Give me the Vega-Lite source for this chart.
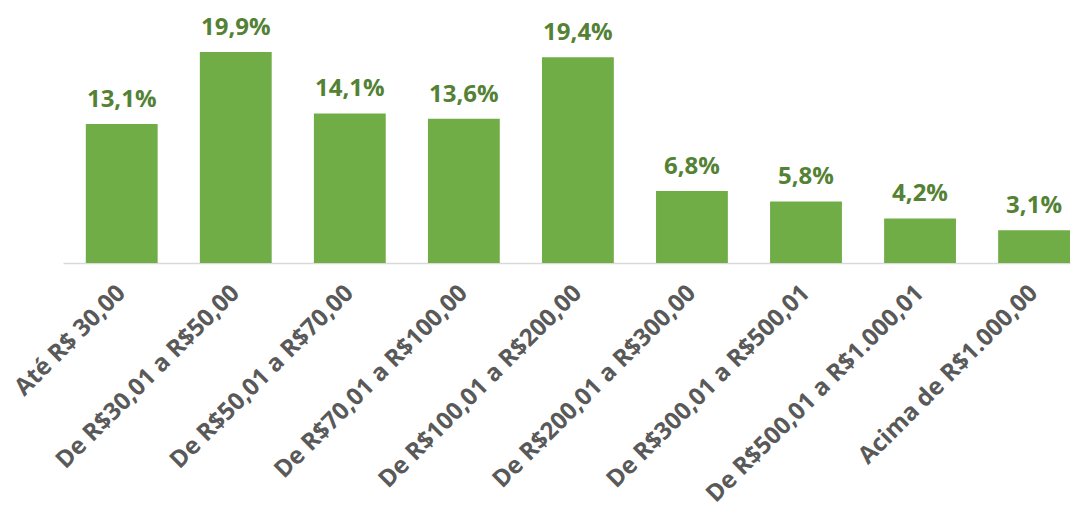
{
  "$schema": "https://vega.github.io/schema/vega-lite/v6.json",
  "width": 1007,
  "height": 263,
  "autosize": {"type": "none"},
  "padding": {"left": 63, "top": 0, "right": 8, "bottom": 255},
  "background": "white",
  "config": {"view": {"stroke": null}},
  "data": {"values": [
    {"faixa": "Até R$ 30,00", "valor": 13.1, "rotulo": "13,1%"},
    {"faixa": "De R$30,01 a R$50,00", "valor": 19.9, "rotulo": "19,9%"},
    {"faixa": "De R$50,01 a R$70,00", "valor": 14.1, "rotulo": "14,1%"},
    {"faixa": "De R$70,01 a R$100,00", "valor": 13.6, "rotulo": "13,6%"},
    {"faixa": "De R$100,01 a R$200,00", "valor": 19.4, "rotulo": "19,4%"},
    {"faixa": "De R$200,01 a R$300,00", "valor": 6.8, "rotulo": "6,8%"},
    {"faixa": "De R$300,01 a R$500,01", "valor": 5.8, "rotulo": "5,8%"},
    {"faixa": "De R$500,01 a R$1.000,01", "valor": 4.2, "rotulo": "4,2%"},
    {"faixa": "Acima de R$1.000,00", "valor": 3.1, "rotulo": "3,1%"}
  ]},
  "encoding": {
    "x": {
      "field": "faixa", "type": "nominal", "sort": null,
      "scale": {"paddingInner": 0.37, "paddingOuter": 0.1, "align": 1},
      "axis": {
        "title": null, "labelAngle": -45, "labelAlign": "right", "labelBaseline": "middle",
        "labelFont": "Open Sans", "labelFontWeight": "bold", "labelFontSize": 24, "labelColor": "#595959",
        "labelPadding": 26, "ticks": false, "domainColor": "#D9D9D9", "domainWidth": 1.5,
        "labelLimit": 400, "labelOverlap": false
      }
    },
    "y": {
      "field": "valor", "type": "quantitative",
      "scale": {"domain": [0, 24.8], "nice": false},
      "axis": null
    }
  },
  "layer": [
    {"mark": {"type": "bar", "color": "#70AD47"}},
    {"mark": {"type": "text", "baseline": "alphabetic", "dy": -17, "font": "Open Sans", "fontWeight": "bold", "fontSize": 24, "color": "#548235"},
     "encoding": {"text": {"field": "rotulo"}}}
  ]
}
